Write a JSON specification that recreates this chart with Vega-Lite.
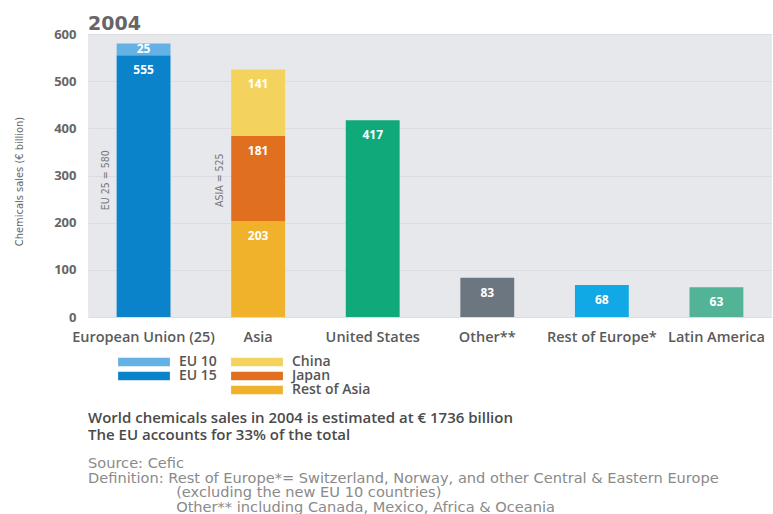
{
  "$schema": "https://vega.github.io/schema/vega-lite/v6.json",
  "background": "white",
  "padding": {"left": 13, "top": 15, "right": 0, "bottom": 0},
  "title": {
    "text": ["World chemicals sales in 2004 is estimated at € 1736 billion", "The EU accounts for 33% of the total"],
    "subtitle": ["Source: Cefic", "Definition:\u00a0Rest of Europe*= Switzerland, Norway, and other Central & Eastern Europe", "\u200b\u00a0\u00a0\u00a0\u00a0\u00a0\u00a0\u00a0\u00a0\u00a0\u00a0\u00a0\u00a0\u00a0\u00a0\u00a0\u00a0\u00a0\u00a0\u00a0(excluding the new EU 10 countries)", "\u200b\u00a0\u00a0\u00a0\u00a0\u00a0\u00a0\u00a0\u00a0\u00a0\u00a0\u00a0\u00a0\u00a0\u00a0\u00a0\u00a0\u00a0\u00a0\u00a0Other** including Canada, Mexico, Africa & Oceania"],
    "orient": "bottom",
    "anchor": "start",
    "frame": "group",
    "offset": 14,
    "font": "Open Sans",
    "fontSize": 15,
    "fontWeight": 600,
    "color": "#4a4a4a",
    "lineHeight": 17,
    "subtitleFont": "DejaVu Sans",
    "subtitleFontSize": 14.6,
    "subtitleColor": "#8a8a8a",
    "subtitleLineHeight": 14.7,
    "subtitlePadding": 13
  },
  "vconcat": [
    {
      "width": 684,
      "height": 283,
      "title": {
        "text": "2004",
        "anchor": "start",
        "frame": "group",
        "font": "DejaVu Sans",
        "fontSize": 19,
        "fontWeight": "bold",
        "color": "#666666",
        "offset": -6
      },
      "layer": [
        {
          "data": {
            "values": [
              {"region": "European Union (25)", "segment": "EU 15", "order": 1, "value": 555},
              {"region": "European Union (25)", "segment": "EU 10", "order": 2, "value": 25},
              {"region": "Asia", "segment": "Rest of Asia", "order": 1, "value": 203},
              {"region": "Asia", "segment": "Japan", "order": 2, "value": 181},
              {"region": "Asia", "segment": "China", "order": 3, "value": 141},
              {"region": "United States", "segment": "United States", "order": 1, "value": 417},
              {"region": "Other**", "segment": "Other", "order": 1, "value": 83},
              {"region": "Rest of Europe*", "segment": "Rest of Europe", "order": 1, "value": 68},
              {"region": "Latin America", "segment": "Latin America", "order": 1, "value": 63}
            ]
          },
          "transform": [
            {"stack": "value", "groupby": ["region"], "sort": [{"field": "order", "order": "ascending"}], "as": ["y0", "y1"]}
          ],
          "layer": [
            {
              "mark": {"type": "bar"},
              "encoding": {
                "x": {"field": "region", "type": "nominal"},
                "y": {"field": "y1", "type": "quantitative"},
                "y2": {"field": "y0"},
                "color": {
                  "field": "segment",
                  "type": "nominal",
                  "scale": {
                    "domain": ["EU 10", "EU 15", "China", "Japan", "Rest of Asia", "United States", "Other", "Rest of Europe", "Latin America", ""],
                    "range": ["#64b1e5", "#0a83cb", "#f4d25e", "#e0701f", "#efb22a", "#10a97a", "#6c7681", "#11a8e6", "#52b396", "rgba(0,0,0,0)"]
                  },
                  "legend": {
                    "values": ["EU 10", "China", "EU 15", "Japan", "", "Rest of Asia"],
                    "title": null,
                    "orient": "none",
                    "legendX": 49,
                    "legendY": 321,
                    "columns": 2,
                    "direction": "horizontal",
                    "symbolType": "M-3.7,-0.6H3.7V0.6H-3.7Z",
                    "symbolSize": 196,
                    "symbolStrokeWidth": 0,
                    "symbolOpacity": 1,
                    "labelOffset": 28,
                    "labelFont": "Open Sans",
                    "labelFontSize": 14,
                    "labelFontWeight": 600,
                    "labelColor": "#555555",
                    "rowPadding": 0,
                    "columnPadding": 14
                  }
                }
              }
            },
            {
              "transform": [{"filter": "datum.value >= 50"}],
              "mark": {"type": "text", "baseline": "middle", "dy": 15, "font": "Open Sans", "fontSize": 12, "fontWeight": "bold", "color": "white"},
              "encoding": {
                "x": {"field": "region", "type": "nominal"},
                "y": {"field": "y1", "type": "quantitative"},
                "text": {"field": "value", "type": "quantitative"}
              }
            },
            {
              "transform": [{"filter": "datum.value < 50"}],
              "mark": {"type": "text", "baseline": "middle", "dy": 6, "font": "Open Sans", "fontSize": 12, "fontWeight": "bold", "color": "white"},
              "encoding": {
                "x": {"field": "region", "type": "nominal"},
                "y": {"field": "y1", "type": "quantitative"},
                "text": {"field": "value", "type": "quantitative"}
              }
            }
          ]
        },
        {
          "data": {
            "values": [
              {"region": "European Union (25)", "label": "EU 25 = 580"},
              {"region": "Asia", "label": "ASIA = 525"}
            ]
          },
          "mark": {"type": "text", "angle": 270, "align": "center", "baseline": "middle", "font": "DejaVu Sans Condensed", "fontSize": 10.5, "color": "#777777"},
          "encoding": {
            "x": {"field": "region", "type": "nominal", "bandPosition": 0},
            "xOffset": {"value": -11},
            "y": {"datum": 290, "type": "quantitative"},
            "text": {"field": "label"}
          }
        }
      ],
      "encoding": {
        "x": {
          "field": "region",
          "type": "nominal",
          "sort": ["European Union (25)", "Asia", "United States", "Other**", "Rest of Europe*", "Latin America"],
          "scale": {"paddingInner": 0.53, "paddingOuter": 0.25},
          "axis": {
            "title": null,
            "labelAngle": 0,
            "labelFont": "Open Sans",
            "labelFontSize": 14.5,
            "labelFontWeight": 600,
            "labelColor": "#5a5a5a",
            "labelPadding": 13,
            "ticks": false,
            "domain": false,
            "grid": false
          }
        },
        "y": {
          "type": "quantitative",
          "scale": {"domain": [0, 600]},
          "axis": {
            "title": "Chemicals sales (€ billion)",
            "titleFont": "DejaVu Sans Condensed",
            "titleFontSize": 11,
            "titleFontWeight": "normal",
            "titleColor": "#666666",
            "titlePadding": 29,
            "titleY": 147,
            "values": [0, 100, 200, 300, 400, 500, 600],
            "labelFont": "Open Sans",
            "labelFontSize": 13,
            "labelFontWeight": "bold",
            "labelColor": "#666666",
            "labelPadding": 12,
            "ticks": false,
            "domain": false,
            "grid": true,
            "gridColor": "#dcdde0",
            "gridWidth": 1
          }
        }
      }
    }
  ],
  "config": {
    "view": {"stroke": null, "fill": "#e7e8eb"}
  }
}
